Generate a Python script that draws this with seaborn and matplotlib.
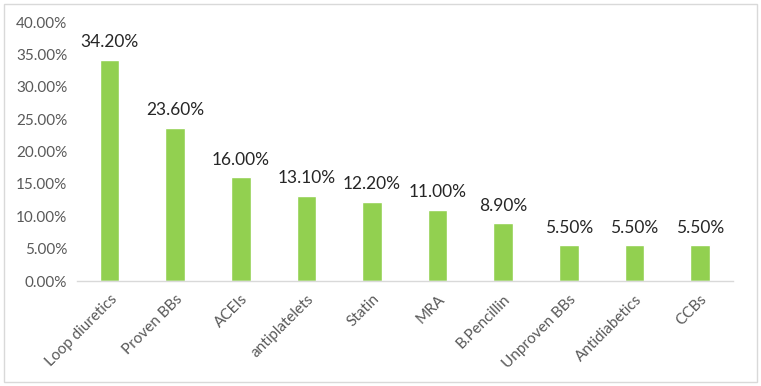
import matplotlib
matplotlib.use("Agg")
import matplotlib.pyplot as plt
import seaborn as sns
import pandas as pd
from matplotlib.patches import Rectangle

categories = ["Loop diuretics", "Proven BBs", "ACEIs", "antiplatelets", "Statin",
              "MRA", "B.Pencillin", "Unproven BBs", "Antidiabetics", "CCBs"]
values = [34.2, 23.6, 16.0, 13.1, 12.2, 11.0, 8.9, 5.5, 5.5, 5.5]
yticks = [0, 5, 10, 15, 20, 25, 30, 35, 40]

sns.set_theme(style="white")
plt.rcParams['font.family'] = ['Lato', 'DejaVu Sans']

df = pd.DataFrame({"cat": categories, "val": values})
fig = plt.figure(figsize=(7.61, 3.86), dpi=100)
ax = fig.add_axes([0.101, 0.272, 0.862, 0.671])
sns.barplot(data=df, x="cat", y="val", color="#92D050", width=0.3, saturation=1, ax=ax)

ax.set_ylim(0, 40)
ax.set_yticks(yticks)
ax.set_yticklabels([f"{v:.2f}%" for v in yticks], fontsize=11, color="#595959")
ax.set_xticks(range(len(categories)))
ax.set_xticklabels(categories, rotation=45, ha="right", rotation_mode="anchor",
                   fontsize=11, color="#595959")
ax.tick_params(axis="y", length=0, pad=7)
ax.tick_params(axis="x", length=0, pad=8)
ax.set_xlabel("")
ax.set_ylabel("")
for s in ["top", "right", "left"]:
    ax.spines[s].set_visible(False)
ax.spines["bottom"].set_color("#D9D9D9")
ax.spines["bottom"].set_linewidth(1)
ax.set_xlim(-0.5, len(categories) - 0.5)

for i, v in enumerate(values):
    ax.text(i, v + 1.5, f"{v:.2f}%", ha="center", va="bottom", fontsize=12.5, color="#262626")

fig.patches.append(Rectangle((0.005, 0.01), 0.99, 0.98, transform=fig.transFigure,
                             fill=False, edgecolor="#D9D9D9", linewidth=1))
fig.savefig("out.png", dpi=100)
